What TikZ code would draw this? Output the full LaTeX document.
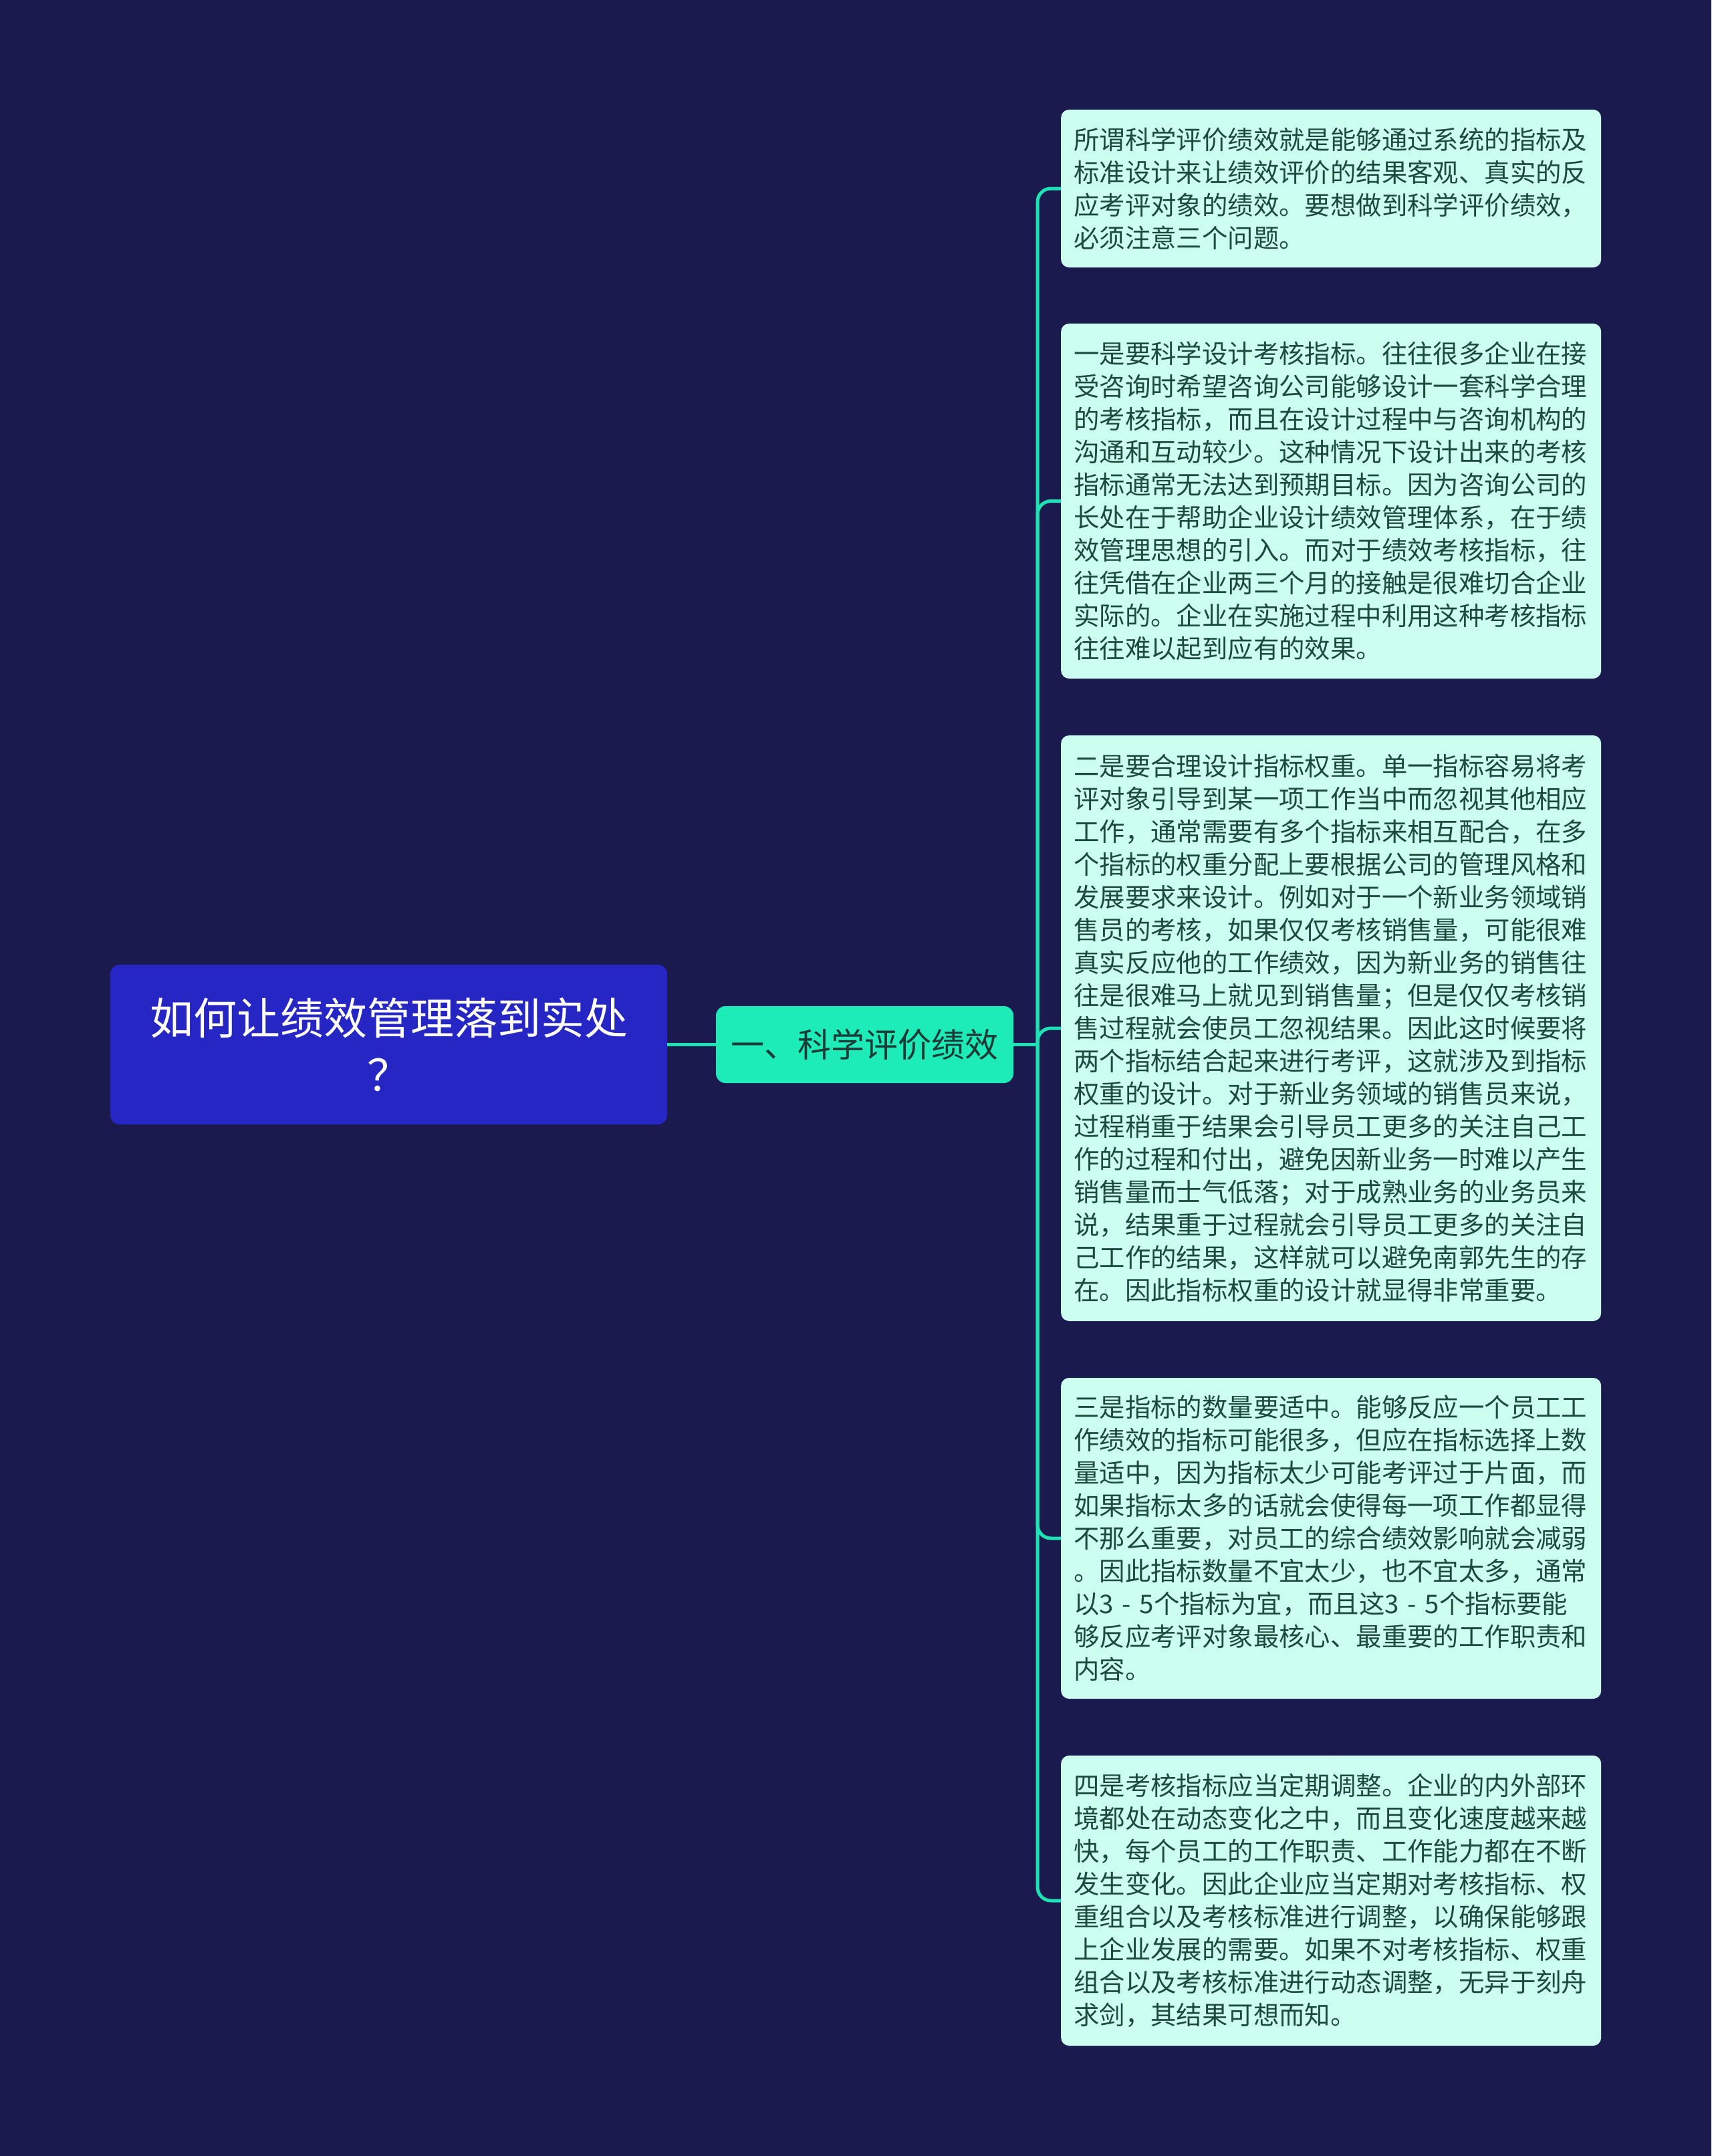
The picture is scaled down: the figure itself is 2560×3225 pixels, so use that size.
\documentclass[tikz,border=0pt]{standalone}
\usepackage{fontspec}
\newfontfamily\cjk{Noto Sans CJK SC}
\definecolor{bg}{HTML}{1B1A4F}
\definecolor{rootc}{HTML}{2626C4}
\definecolor{branchc}{HTML}{1DEBB8}
\definecolor{branchtext}{HTML}{1E3A36}
\definecolor{leafc}{HTML}{CCFFF0}
\definecolor{leaftext}{HTML}{1C4A3C}
\definecolor{linec}{HTML}{1DE3B4}
\begin{document}
\begin{tikzpicture}[x=1pt,y=-1pt,
 rootbox/.style={fill=rootc, rounded corners=14pt, text=white, font=\cjk\fontsize{65}{85}\selectfont, align=center, minimum width=833pt, minimum height=239pt, inner sep=0pt},
 branchbox/.style={fill=branchc, rounded corners=14pt, text=branchtext, font=\cjk\fontsize{50}{60}\selectfont, minimum width=445pt, minimum height=115pt, inner sep=0pt},
 leafbox/.style={fill=leafc, rounded corners=12pt, text=leaftext, font=\cjk\fontsize{38.4}{49}\selectfont, text width=770pt, align=left, inner xsep=19pt, inner ysep=0pt, anchor=west},
 conn/.style={draw=linec, line width=5pt, rounded corners=20pt}]
\fill[bg] (0,0) rectangle (2560,3225);
\useasboundingbox (0,0) rectangle (2560,3225);

\node[rootbox] (root) at (581.5,1562.5) {如何让绩效管理落到实处\\？};
\node[branchbox] (branch) at (1293.5,1562.5) {一、科学评价绩效};

\node[leafbox, minimum height=236pt] (l1) at (1587,282) {所谓科学评价绩效就是能够通过系统的指标及\\标准设计来让绩效评价的结果客观、真实的反\\应考评对象的绩效。要想做到科学评价绩效，\\必须注意三个问题。};

\node[leafbox, minimum height=531pt] (l2) at (1587,749.5) {一是要科学设计考核指标。往往很多企业在接\\受咨询时希望咨询公司能够设计一套科学合理\\的考核指标，而且在设计过程中与咨询机构的\\沟通和互动较少。这种情况下设计出来的考核\\指标通常无法达到预期目标。因为咨询公司的\\长处在于帮助企业设计绩效管理体系，在于绩\\效管理思想的引入。而对于绩效考核指标，往\\往凭借在企业两三个月的接触是很难切合企业\\实际的。企业在实施过程中利用这种考核指标\\往往难以起到应有的效果。};

\node[leafbox, minimum height=876pt] (l3) at (1587,1538) {二是要合理设计指标权重。单一指标容易将考\\评对象引导到某一项工作当中而忽视其他相应\\工作，通常需要有多个指标来相互配合，在多\\个指标的权重分配上要根据公司的管理风格和\\发展要求来设计。例如对于一个新业务领域销\\售员的考核，如果仅仅考核销售量，可能很难\\真实反应他的工作绩效，因为新业务的销售往\\往是很难马上就见到销售量；但是仅仅考核销\\售过程就会使员工忽视结果。因此这时候要将\\两个指标结合起来进行考评，这就涉及到指标\\权重的设计。对于新业务领域的销售员来说，\\过程稍重于结果会引导员工更多的关注自己工\\作的过程和付出，避免因新业务一时难以产生\\销售量而士气低落；对于成熟业务的业务员来\\说，结果重于过程就会引导员工更多的关注自\\己工作的结果，这样就可以避免南郭先生的存\\在。因此指标权重的设计就显得非常重要。};

\node[leafbox, minimum height=480pt] (l4) at (1587,2301) {三是指标的数量要适中。能够反应一个员工工\\作绩效的指标可能很多，但应在指标选择上数\\量适中，因为指标太少可能考评过于片面，而\\如果指标太多的话就会使得每一项工作都显得\\不那么重要，对员工的综合绩效影响就会减弱\\。因此指标数量不宜太少，也不宜太多，通常\\以3 - 5个指标为宜，而且这3 - 5个指标要能\\够反应考评对象最核心、最重要的工作职责和\\内容。};

\node[leafbox, minimum height=434pt] (l5) at (1587,2843) {四是考核指标应当定期调整。企业的内外部环\\境都处在动态变化之中，而且变化速度越来越\\快，每个员工的工作职责、工作能力都在不断\\发生变化。因此企业应当定期对考核指标、权\\重组合以及考核标准进行调整，以确保能够跟\\上企业发展的需要。如果不对考核指标、权重\\组合以及考核标准进行动态调整，无异于刻舟\\求剑，其结果可想而知。};

\coordinate (j) at (1552,1562.5);
\draw[conn] (root.east) -- (branch.west);
\draw[conn] (branch.east) -- (j);
\foreach \l in {l1,l2,l3,l4,l5} \draw[conn] (j) |- (\l.west);
\end{tikzpicture}
\end{document}
